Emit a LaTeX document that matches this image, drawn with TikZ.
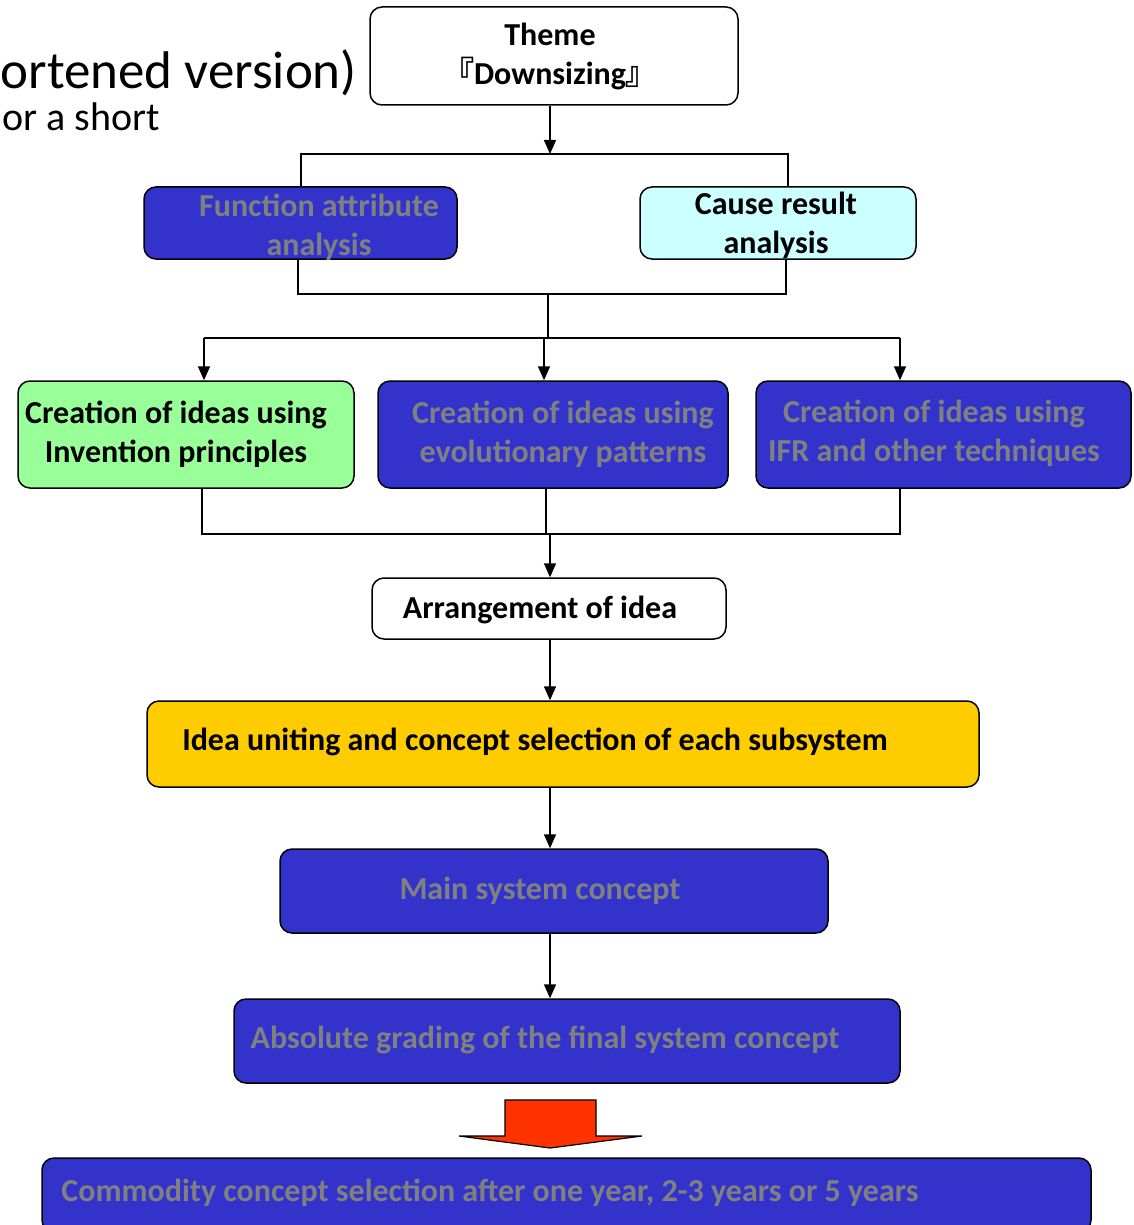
\documentclass[tikz,border=0pt]{standalone}
\usepackage{fontspec}
\setmainfont{Carlito}
\newfontfamily\cjk{Noto Sans CJK JP}
\usetikzlibrary{arrows.meta}
\definecolor{boxblue}{HTML}{3333CC}
\definecolor{textgray}{HTML}{808080}
\definecolor{boxgreen}{HTML}{99FF99}
\definecolor{boxcyan}{HTML}{CCFFFF}
\definecolor{boxyellow}{HTML}{FFCC00}
\definecolor{arrowred}{HTML}{FF3300}
\begin{document}
\begin{tikzpicture}[x=1pt, y=-1pt,
    box/.style={draw, rounded corners=12, line width=1.5, inner sep=0},
    bluebox/.style={box, fill=boxblue},
    txt/.style={font=\bfseries\fontsize{32}{39}\selectfont, align=center, inner sep=0},
    gtxt/.style={txt, text=textgray},
    link/.style={line width=1.5},
    flow/.style={link, -{Triangle[length=14, width=12]}}]

    \useasboundingbox (0,0) rectangle (1134,1225);
    \clip (0,0) rectangle (1134,1225);

    % Title text (cut off at the left)
    \node[anchor=base east, inner sep=0, font=\fontsize{53}{60}\selectfont] (title1) at (357,89) {ortened version)};
    \node[anchor=base east, inner sep=0, font=\fontsize{40}{46}\selectfont] (title2) at (160,131) {or a short};

    % Theme
    \node[box, fill=white, minimum width=368, minimum height=98] (theme) at (554,56) {};
    \node[txt] (theme-t) at (550,56) {Theme\\{\cjk\bfseries 『}Downsizing{\cjk\bfseries 』}};

    % Analysis
    \node[bluebox, minimum width=313, minimum height=72] (fa) at (300.5,223) {};
    \node[gtxt] (fa-t) at (319,227) {Function attribute\\analysis};
    \node[box, fill=boxcyan, minimum width=276, minimum height=72] (cr) at (778,223) {};
    \node[txt] (cr-t) at (776,225) {Cause result\\analysis};

    % Creation of ideas
    \node[box, fill=boxgreen, minimum width=336, minimum height=107] (c1) at (186,434.5) {};
    \node[txt] (c1-t) at (176,434) {Creation of ideas using\\Invention principles};
    \node[bluebox, minimum width=350, minimum height=107] (c2) at (553,434.5) {};
    \node[gtxt] (c2-t) at (563,434) {Creation of ideas using\\evolutionary patterns};
    \node[bluebox, minimum width=375, minimum height=107] (c3) at (943.5,434.5) {};
    \node[gtxt] (c3-t) at (934,433) {Creation of ideas using\\IFR and other techniques};

    % Later steps
    \node[box, fill=white, minimum width=354, minimum height=61] (arr) at (549,608.5) {};
    \node[txt] (arr-t) at (540,610) {Arrangement of idea};
    \node[box, fill=boxyellow, minimum width=832, minimum height=86] (unite) at (563,744) {};
    \node[txt] (unite-t) at (535,742) {Idea uniting and concept selection of each subsystem};
    \node[bluebox, minimum width=548, minimum height=84] (main) at (554,891) {};
    \node[gtxt] (main-t) at (540,891) {Main system concept};
    \node[bluebox, minimum width=666, minimum height=84] (abs) at (567,1041) {};
    \node[gtxt] (abs-t) at (545,1040) {Absolute grading of the final system concept};
    \node[bluebox, minimum width=1049, minimum height=74] (com) at (566.5,1195) {};
    \node[gtxt] (com-t) at (490,1193) {Commodity concept selection after one year, 2-3 years or 5 years};

    % Branch points
    \coordinate (j) at (550,154);
    \coordinate (j1) at (301,154);
    \coordinate (j2) at (788,154);
    \coordinate (m) at (548,294);
    \coordinate (m1) at (298,294);
    \coordinate (m2) at (786,294);
    \coordinate (s) at (548,338);
    \coordinate (s1) at (204,338);
    \coordinate (s2) at (544,338);
    \coordinate (s3) at (900,338);
    \coordinate (t) at (550,534);
    \coordinate (t1) at (202,534);
    \coordinate (t2) at (546,534);
    \coordinate (t3) at (900,534);

    % Connectors
    \draw[flow] (theme.south -| j) -- (j);
    \draw[link] (fa.north -| j1) -- (j1) -- (j2) -- (cr.north -| j2);
    \draw[link] (fa.south -| m1) -- (m1) -- (m2) -- (cr.south -| m2);
    \draw[link] (m) -- (s);
    \draw[link] (s1) -- (s3);
    \draw[flow] (s1) -- (c1.north -| s1);
    \draw[flow] (s2) -- (c2.north -| s2);
    \draw[flow] (s3) -- (c3.north -| s3);
    \draw[link] (c1.south -| t1) -- (t1) -- (t3) -- (c3.south -| t3);
    \draw[link] (c2.south -| t2) -- (t2);
    \draw[flow] (t) -- (arr.north -| t);
    \draw[flow] (arr.south -| t) -- (unite.north -| t);
    \draw[flow] (unite.south -| t) -- (main.north -| t);
    \draw[flow] (main.south -| t) -- (abs.north -| t);

    % Block arrow
    \draw[fill=arrowred, line width=1.2] (505,1100) -- (596,1100) -- (596,1136) -- (642,1136)
        -- (550,1148) -- (459,1136) -- (505,1136) -- cycle;
\end{tikzpicture}
\end{document}
